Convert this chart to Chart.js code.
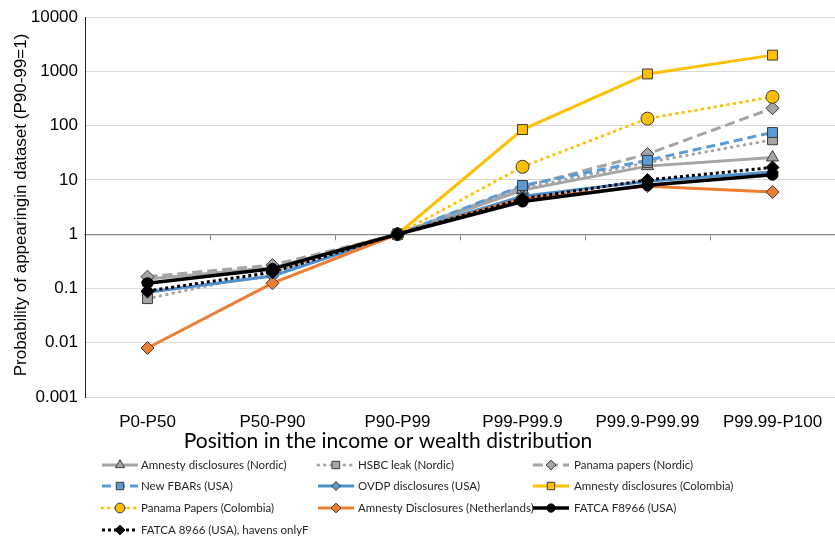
<!DOCTYPE html>
<html>
<head>
<meta charset="utf-8">
<script src="https://cdn.jsdelivr.net/npm/chart.js@4"></script>
<style>
  html, body { margin: 0; padding: 0; background: #fff; }
  #wrap { width: 835px; height: 542px; position: relative; }
</style>
</head>
<body>
<div id="wrap"><canvas id="chart" width="835" height="542"></canvas></div>
<script>
// Categories on the x axis
const categories = ['P0-P50', 'P50-P90', 'P90-P99', 'P99-P99.9', 'P99.9-P99.99', 'P99.99-P100'];

// Series values (probability relative to P90-P99)
const amnestyNordic    = [0.15, 0.24, 1, 6.5, 18, 26];
const hsbcNordic       = [0.065, 0.2, 1, 7, 21, 55];
const panamaNordic     = [0.165, 0.27, 1, 7.5, 30, 210];
const newFbars         = [null, null, 1, 7.9, 23, 75];
const ovdpUsa          = [0.085, 0.17, 1, 5, 9.5, 14];
const amnestyColombia  = [null, null, 1, 85, 900, 2000];
const panamaColombia   = [null, null, 1, 17.5, 135, 340];
const amnestyNL        = [0.008, 0.125, 1, 4.5, 7.7, 6];
const fatcaUsa         = [0.125, 0.23, 1, 4, 8, 12.5];
const fatcaHavens      = [0.09, 0.2, 1, 4.5, 10, 17];

// Tick labels of the log axis
const yTicks = [0.001, 0.01, 0.1, 1, 10, 100, 1000, 10000];

const GRAY = '#A5A5A5', BLUE = '#5B9BD5', BLUE2 = '#4F8FCB', GOLD = '#FFC000', ORANGE = '#ED7D31';
const EDGE = '#3a3a3a';

function series(label, data, color, style, radius, dash, cap, width, fill) {
    return {
        label: label,
        data: data,
        borderColor: color,
        backgroundColor: fill || color,
        borderWidth: width || 3,
        borderDash: dash || [],
        borderCapStyle: cap || 'butt',
        pointStyle: style,
        pointRadius: radius,
        pointBackgroundColor: fill || color,
        pointBorderColor: color === '#000' ? '#000' : EDGE,
        pointBorderWidth: 1,
        tension: 0,
        fill: false
    };
}

const datasets = [
    series('Amnesty disclosures (Nordic)', amnestyNordic, GRAY, 'triangle', 7),
    series('HSBC leak (Nordic)', hsbcNordic, GRAY, 'rect', 7, [0.5, 6], 'round'),
    series('Panama papers (Nordic)', panamaNordic, GRAY, 'rectRot', 6.5, [10, 5]),
    series('New FBARs (USA)', newFbars, BLUE, 'rect', 7, [9, 5]),
    series('OVDP disclosures (USA)', ovdpUsa, BLUE2, 'rectRot', 6, [], 'butt', 3, BLUE),
    series('Amnesty disclosures (Colombia)', amnestyColombia, GOLD, 'rect', 7),
    series('Panama Papers (Colombia)', panamaColombia, GOLD, 'circle', 6.5, [0.5, 6], 'round'),
    series('Amnesty Disclosures (Netherlands)', amnestyNL, ORANGE, 'rectRot', 6.5),
    series('FATCA F8966 (USA)', fatcaUsa, '#000', 'circle', 5.5, [], 'butt', 3.5),
    series('FATCA 8966 (USA), havens onlyF', fatcaHavens, '#000', 'rectRot', 6.5, [3, 3])
];
// later series on top, like the original
datasets.forEach((d, i) => { d.order = datasets.length - i; });

// Legend in three columns plus axis titles
const extrasPlugin = {
    id: 'extras',
    afterDraw(chart) {
        const ctx = chart.ctx;
        const colSample = [102, 318, 533];
        const colText = [141, 358, 574];
        const rows = [465, 486, 508, 530];
        const sampleLen = 36;

        chart.data.datasets.forEach((ds, i) => {
            const col = i % 3, row = Math.floor(i / 3);
            const x0 = colSample[col], y = rows[row];
            ctx.save();
            ctx.strokeStyle = ds.borderColor;
            ctx.lineWidth = ds.borderWidth;
            ctx.lineCap = ds.borderCapStyle;
            ctx.setLineDash(ds.borderDash);
            ctx.beginPath();
            ctx.moveTo(x0, y);
            ctx.lineTo(x0 + sampleLen, y);
            ctx.stroke();
            ctx.setLineDash([]);
            ctx.fillStyle = ds.pointBackgroundColor;
            ctx.strokeStyle = ds.pointBorderColor;
            ctx.lineWidth = 1;
            Chart.helpers.drawPoint(ctx, {
                pointStyle: ds.pointStyle,
                radius: ds.pointRadius * 0.75,
                rotation: 0,
                borderWidth: 1
            }, x0 + sampleLen / 2, y);
            ctx.fillStyle = '#262626';
            ctx.font = '11.5px Lato';
            ctx.textAlign = 'left';
            ctx.textBaseline = 'middle';
            ctx.fillText(ds.label, colText[col], y);
            ctx.restore();
        });

        // axis titles
        ctx.save();
        ctx.fillStyle = '#000';
        ctx.font = '21px Lato';
        ctx.textAlign = 'center';
        ctx.textBaseline = 'middle';
        ctx.fillText('Position in the income or wealth distribution', 388, 441);
        ctx.translate(21, 205);
        ctx.rotate(-Math.PI / 2);
        ctx.font = '17px "Liberation Sans"';
        ctx.fillText('Probability of appearingin dataset (P90-99=1)', 0, 0);
        ctx.restore();
    }
};

new Chart(document.getElementById('chart'), {
    type: 'line',
    data: { labels: categories, datasets: datasets },
    options: {
        responsive: false,
        animation: false,
        events: [],
        layout: { autoPadding: false, padding: { top: 14, right: 0, bottom: 0, left: 0 } },
        plugins: {
            legend: { display: false },
            tooltip: { enabled: false }
        },
        scales: {
            x: {
                type: 'category',
                position: { y: 1 },
                offset: true,
                afterFit(s) { s.height = 0; s.paddingLeft = 0; s.paddingRight = 0; },
                grid: {
                    offset: true,
                    drawOnChartArea: false,
                    drawTicks: true,
                    tickLength: 5,
                    tickColor: '#868686'
                },
                border: { color: '#868686', width: 1.3 },
                ticks: { display: false }
            },
            x2: {
                type: 'category',
                position: 'bottom',
                offset: true,
                afterFit(s) { s.height = 145; s.paddingLeft = 0; s.paddingRight = 0; },
                grid: { display: false, drawTicks: false },
                border: { display: false },
                ticks: {
                    color: '#000',
                    padding: 15,
                    maxRotation: 0,
                    autoSkip: false,
                    font: { family: 'Liberation Sans', size: 17 }
                }
            },
            y: {
                type: 'logarithmic',
                min: 0.001,
                max: 10000,
                afterFit(s) { s.width = 85; },
                afterBuildTicks(s) { s.ticks = yTicks.map(v => ({ value: v })); },
                grid: { color: '#D9D9D9', drawTicks: false },
                border: { color: '#222', width: 1 },
                ticks: {
                    color: '#000',
                    padding: 7,
                    font: { family: 'Liberation Sans', size: 17 },
                    callback: v => String(v)
                }
            }
        }
    },
    plugins: [extrasPlugin]
});
</script>
</body>
</html>
